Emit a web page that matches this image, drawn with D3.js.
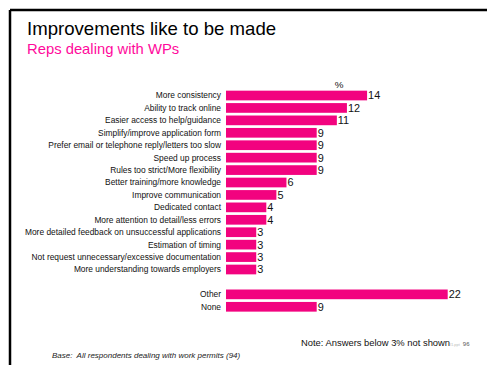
<!DOCTYPE html>
<html lang="en">
<head>
    <meta charset="UTF-8">
    <title>Improvements like to be made</title>
    <script src="https://d3js.org/d3.v7.min.js"></script>
    <style>
        body {
            margin: 0;
            background: #fff;
            overflow: hidden;
        }
        text {
            font-family: "Liberation Sans", Arial, sans-serif;
        }
    </style>
</head>
<body>
    <script>
        // chart data
        var categories = [
            "More consistency",
            "Ability to track online",
            "Easier access to help/guidance",
            "Simplify/improve application form",
            "Prefer email or telephone reply/letters too slow",
            "Speed up process",
            "Rules too strict/More flexibility",
            "Better training/more knowledge",
            "Improve communication",
            "Dedicated contact",
            "More attention to detail/less errors",
            "More detailed feedback on unsuccessful applications",
            "Estimation of timing",
            "Not request unnecessary/excessive documentation",
            "More understanding towards employers",
            "",
            "Other",
            "None"
        ];
        var values = [14, 12, 11, 9, 9, 9, 9, 6, 5, 4, 4, 3, 3, 3, 3, null, 22, 9];

        var width = 487,
            height = 365;
        var pink = "#f2037f";

        var svg = d3.select("body").append("svg")
            .attr("width", width)
            .attr("height", height);

        // slide frame (only top and left edges visible)
        svg.append("line")
            .attr("x1", 10).attr("y1", 10).attr("x2", width).attr("y2", 10)
            .attr("stroke", "#000").attr("stroke-width", 2.5);
        svg.append("line")
            .attr("x1", 10).attr("y1", 10).attr("x2", 10).attr("y2", height)
            .attr("stroke", "#000").attr("stroke-width", 2.5);

        svg.append("text")
            .attr("x", 27).attr("y", 35)
            .attr("font-size", 18.6)
            .attr("fill", "#000")
            .text("Improvements like to be made");

        svg.append("text")
            .attr("x", 27).attr("y", 54)
            .attr("font-size", 14.8)
            .attr("fill", "#ff0a9c")
            .text("Reps dealing with WPs");

        var x = d3.scaleLinear()
            .domain([0, 22])
            .range([226, 447.7]);

        var y = d3.scaleBand()
            .domain(d3.range(categories.length))
            .range([89.3, 313])
            .paddingInner(0.22)
            .paddingOuter(0.11);

        var rows = categories.map((c, i) => ({ label: c, value: values[i], i: i }))
            .filter(d => d.value !== null);

        svg.append("g")
            .selectAll("rect")
            .data(rows)
            .enter().append("rect")
            .attr("x", x(0))
            .attr("y", d => y(d.i))
            .attr("width", d => x(d.value) - x(0))
            .attr("height", y.bandwidth())
            .attr("fill", pink);

        svg.append("g")
            .selectAll("text")
            .data(rows)
            .enter().append("text")
            .attr("x", x(0) - 5)
            .attr("y", d => y(d.i) + y.bandwidth() / 2)
            .attr("dy", "0.35em")
            .attr("text-anchor", "end")
            .attr("font-size", 8.4)
            .attr("fill", "#111")
            .text(d => d.label);

        svg.append("g")
            .selectAll("text")
            .data(rows)
            .enter().append("text")
            .attr("x", d => x(d.value) + 1)
            .attr("y", d => y(d.i) + y.bandwidth() / 2)
            .attr("dy", "0.36em")
            .attr("font-size", 10.9)
            .attr("fill", "#111")
            .text(d => d.value);

        svg.append("text")
            .attr("x", 339).attr("y", 87.5)
            .attr("text-anchor", "middle")
            .attr("font-size", 9.8)
            .attr("fill", "#111")
            .text("%");

        var note = svg.append("text")
            .attr("x", 301).attr("y", 346)
            .attr("font-size", 9.4)
            .attr("fill", "#111");
        note.append("tspan").text("Note: Answers below 3% not shown");
        note.append("tspan")
            .attr("font-size", 4)
            .attr("fill", "#bbb")
            .text("l1.ppt");
        note.append("tspan")
            .attr("dx", 3)
            .attr("font-size", 6)
            .attr("fill", "#555")
            .text("96");

        svg.append("text")
            .attr("x", 52).attr("y", 358)
            .attr("font-size", 8)
            .attr("font-style", "italic")
            .attr("fill", "#222")
            .attr("xml:space", "preserve")
            .text("Base:  All respondents dealing with work permits (94)");
    </script>
</body>
</html>
